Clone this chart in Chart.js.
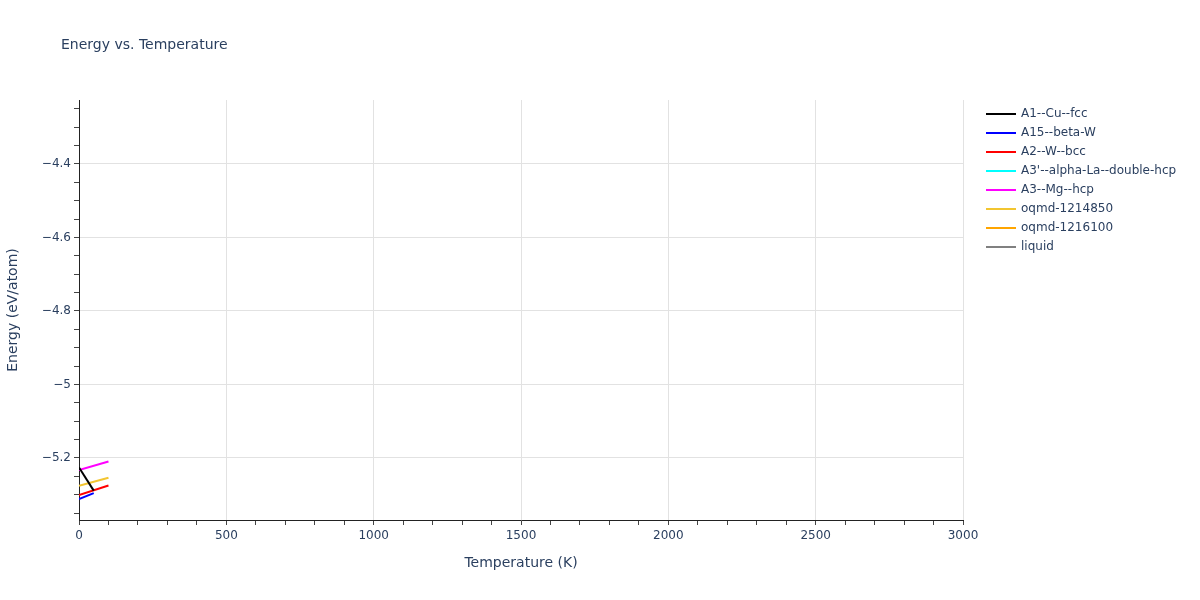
<!DOCTYPE html>
<html>
<head>
<meta charset="utf-8">
<script src="https://cdn.jsdelivr.net/npm/chart.js@4"></script>
<style>
  html, body { margin: 0; padding: 0; background: #fff; }
  #wrap { width: 1200px; height: 600px; }
</style>
</head>
<body>
<div id="wrap"><canvas id="energyChart" width="1200" height="600"></canvas></div>
<script>
// values
const seriesNames = ['A1--Cu--fcc', 'A15--beta-W', 'A2--W--bcc', "A3'--alpha-La--double-hcp",
    'A3--Mg--hcp', 'oqmd-1214850', 'oqmd-1216100', 'liquid'];
const seriesColors = ['#000000', '#0000ff', '#ff0000', '#00ffff', '#ff00ff', '#f2c530', '#ffa500', '#808080'];

const cuFccT = [0, 50];
const cuFccE = [-5.226, -5.289];
const betaWT = [0, 50];
const betaWE = [-5.312, -5.296];
const wBccT = [0, 100];
const wBccE = [-5.301, -5.275];
const laDhcpT = [];
const laDhcpE = [];
const mgHcpT = [0, 100];
const mgHcpE = [-5.233, -5.210];
const oqmd1214850T = [0, 100];
const oqmd1214850E = [-5.276, -5.254];
const oqmd1216100T = [];
const oqmd1216100E = [];
const liquidT = [];
const liquidE = [];

const xMajorTicks = [0, 500, 1000, 1500, 2000, 2500, 3000];
const yMajorTicks = [-5.2, -5, -4.8, -4.6, -4.4];

const allT = [cuFccT, betaWT, wBccT, laDhcpT, mgHcpT, oqmd1214850T, oqmd1216100T, liquidT];
const allE = [cuFccE, betaWE, wBccE, laDhcpE, mgHcpE, oqmd1214850E, oqmd1216100E, liquidE];

const textColor = '#2a3f5f';
const font = '"DejaVu Sans", Verdana, sans-serif';

function isMajor(v, list) {
    return list.some(m => Math.abs(m - v) < 1e-6);
}

function fmt(v) {
    let s = String(Math.round(v * 100) / 100);
    return s.replace('-', '\u2212');
}

const datasets = seriesNames.map((name, i) => ({
    label: name,
    data: allT[i].map((t, j) => ({ x: t, y: allE[i][j] })),
    borderColor: seriesColors[i],
    backgroundColor: seriesColors[i],
    borderWidth: 2,
    pointRadius: 0,
    fill: false,
    tension: 0
}));

// title and legend drawn on the canvas at fixed spots, like plotly does
const sidePlugin = {
    id: 'sideText',
    afterDraw(chart) {
        const ctx = chart.ctx;
        ctx.save();
        ctx.fillStyle = textColor;
        ctx.font = '14px ' + font;
        ctx.textBaseline = 'middle';
        ctx.fillText('Energy vs. Temperature', 61, 45);
        ctx.font = '12px ' + font;
        chart.data.datasets.forEach((ds, i) => {
            const y = 114 + i * 19;
            ctx.strokeStyle = ds.borderColor;
            ctx.lineWidth = 2;
            ctx.beginPath();
            ctx.moveTo(986, y);
            ctx.lineTo(1016, y);
            ctx.stroke();
            ctx.fillStyle = textColor;
            ctx.fillText(ds.label, 1021, y);
        });
        ctx.restore();
    }
};

new Chart(document.getElementById('energyChart'), {
    type: 'line',
    data: { datasets: datasets },
    plugins: [sidePlugin],
    options: {
        responsive: false,
        animation: false,
        layout: { padding: { left: 0, top: 100, right: 237, bottom: 0 } },
        plugins: {
            legend: { display: false },
            tooltip: { enabled: false }
        },
        scales: {
            x: {
                type: 'linear',
                min: 0,
                max: 3000,
                afterFit(scale) { scale.height = 80; },
                afterBuildTicks(scale) {
                    let t = [];
                    for (let v = 0; v <= 3000; v += 100) t.push({ value: v });
                    scale.ticks = t;
                },
                grid: {
                    color: c => isMajor(c.tick.value, xMajorTicks) ? '#e2e2e2' : 'rgba(0,0,0,0)',
                    tickColor: '#444',
                    tickLength: 5,
                    lineWidth: 1
                },
                border: { color: '#222', width: 1 },
                ticks: {
                    autoSkip: false,
                    maxRotation: 0,
                    color: textColor,
                    font: { family: font, size: 12 },
                    padding: 4,
                    callback: v => isMajor(v, xMajorTicks) ? fmt(v) : ''
                },
                title: {
                    display: true,
                    text: 'Temperature (K)',
                    color: textColor,
                    font: { family: font, size: 14 },
                    padding: { top: 0, bottom: 28 }
                }
            },
            y: {
                type: 'linear',
                min: -5.369,
                max: -4.226,
                afterFit(scale) { scale.width = 79; },
                afterBuildTicks(scale) {
                    let t = [];
                    for (let k = -107; k <= -85; k++) t.push({ value: k * 0.05 });
                    scale.ticks = t.filter(o => o.value >= -5.369 && o.value <= -4.226);
                },
                grid: {
                    color: c => isMajor(c.tick.value, yMajorTicks) ? '#e2e2e2' : 'rgba(0,0,0,0)',
                    tickColor: '#444',
                    tickLength: 5,
                    lineWidth: 1
                },
                border: { color: '#222', width: 1 },
                ticks: {
                    autoSkip: false,
                    color: textColor,
                    font: { family: font, size: 12 },
                    padding: 3,
                    callback: v => isMajor(v, yMajorTicks) ? fmt(v) : ''
                },
                title: {
                    display: true,
                    text: 'Energy (eV/atom)',
                    color: textColor,
                    font: { family: font, size: 14 },
                    padding: { top: 5, bottom: 0 }
                }
            }
        }
    }
});
</script>
</body>
</html>
